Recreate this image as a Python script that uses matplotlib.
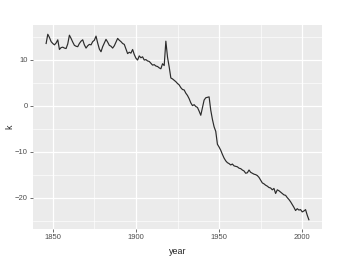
import matplotlib
matplotlib.use("Agg")
import matplotlib.pyplot as plt
from matplotlib.ticker import MultipleLocator

years = list(range(1846, 2005))
k = [
    13.5, 15.5, 14.8, 13.9, 13.5, 13.2, 13.6, 14.3, 12.2, 12.6,   # 1846-1855
    12.7, 12.5, 12.4, 13.4, 15.3, 14.6, 13.8, 13.1, 12.9, 12.8,   # 1856-1865
    13.5, 14.0, 14.3, 13.2, 12.5, 13.0, 13.3, 13.2, 13.9, 14.2,   # 1866-1875
    15.1, 13.6, 12.3, 11.7, 12.8, 13.6, 14.4, 13.8, 13.1, 12.9,   # 1876-1885
    12.5, 13.0, 13.8, 14.6, 14.2, 13.9, 13.5, 13.3, 12.3, 11.3,   # 1886-1895
    11.6, 11.4, 12.2, 11.1, 10.3, 9.9, 10.8, 10.4, 10.6, 9.9,     # 1896-1905
    10.0, 9.7, 9.6, 9.2, 8.8, 8.9, 8.6, 8.5, 8.2, 8.0,            # 1906-1915
    9.1, 8.7, 14.0, 10.5, 8.4, 6.0, 5.8, 5.5, 5.2, 4.8,           # 1916-1925
    4.5, 3.9, 3.5, 3.4, 2.7, 2.2, 1.5, 0.6, 0.0, 0.2,             # 1926-1935
    -0.2, -0.4, -1.2, -2.1, -0.5, 1.2, 1.7, 1.8, 1.9, -1.0,       # 1936-1945
    -3.0, -4.6, -5.6, -8.4, -9.0, -9.7, -10.6, -11.4, -12.0, -12.4,  # 1946-1955
    -12.6, -12.9, -12.7, -13.1, -13.2, -13.3, -13.6, -13.7, -14.0, -14.2,  # 1956-1965
    -14.7, -14.6, -14.0, -14.5, -14.7, -14.9, -15.0, -15.2, -15.6, -16.2,  # 1966-1975
    -16.8, -17.0, -17.3, -17.5, -17.8, -17.9, -18.3, -18.0, -19.1, -18.3,  # 1976-1985
    -18.5, -18.8, -19.1, -19.4, -19.5, -20.0, -20.4, -20.9, -21.5, -22.1,  # 1986-1995
    -22.8, -22.4, -22.7, -22.6, -23.1, -22.9, -22.6, -23.8, -24.8,         # 1996-2004
]

fig = plt.figure(figsize=(3.38, 2.58), dpi=100)
ax = fig.add_axes([0.0976, 0.1124, 0.8551, 0.7907])
ax.set_facecolor("#EBEBEB")

ax.plot(years, k, color="#2B2B2B", lw=0.85)

# ggplot-style 5% expansion
xr = max(years) - min(years)
yr = max(k) - min(k)
ax.set_xlim(min(years) - 0.05 * xr, max(years) + 0.05 * xr)
ax.set_ylim(min(k) - 0.05 * yr, max(k) + 0.05 * yr)

ax.xaxis.set_major_locator(MultipleLocator(50))
ax.xaxis.set_minor_locator(MultipleLocator(25))
ax.yaxis.set_major_locator(MultipleLocator(10))
ax.yaxis.set_minor_locator(MultipleLocator(5))

ax.grid(which="major", color="white", lw=0.9)
ax.grid(which="minor", color="white", lw=0.45)
ax.set_axisbelow(True)
for s in ax.spines.values():
    s.set_visible(False)

ax.tick_params(which="major", length=2.2, width=0.5, color="#333333",
               labelsize=5.5, labelcolor="#4D4D4D", pad=1.5)
ax.tick_params(which="minor", length=0)
for lab in ax.get_xticklabels() + ax.get_yticklabels():
    lab.set_family("Liberation Sans")

ax.set_xlabel("year", fontsize=6.4, family="Liberation Sans", color="#222222")
ax.set_ylabel("k", fontsize=6.4, family="Liberation Sans", color="#222222")
ax.xaxis.set_label_coords(0.5, -0.088)
ax.yaxis.set_label_coords(-0.066, 0.5)

fig.savefig("out.png", dpi=100, facecolor="white")
